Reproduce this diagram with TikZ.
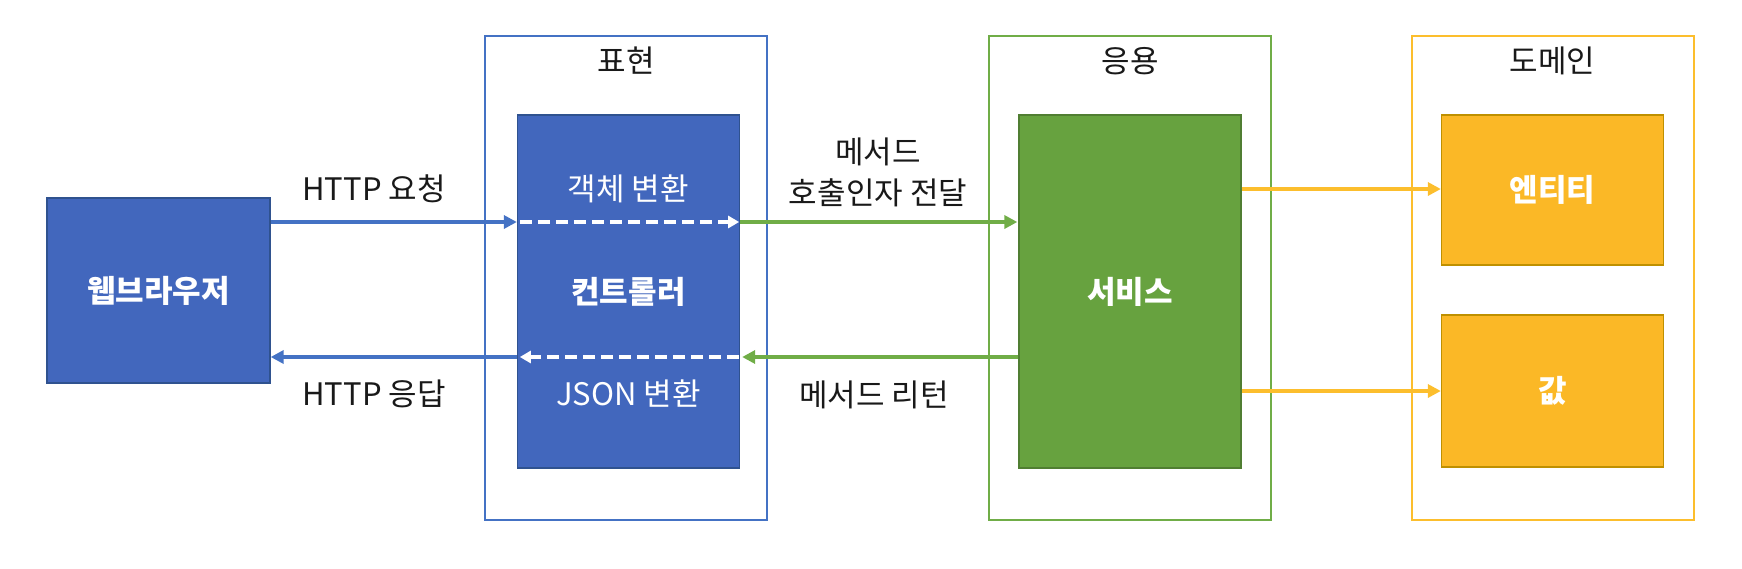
\documentclass[tikz,border=0pt]{standalone}
\usepackage{fontspec}
\setmainfont{Noto Sans CJK KR}
\usetikzlibrary{arrows.meta}
\definecolor{bfill}{RGB}{66,103,189}
\definecolor{bdark}{RGB}{47,82,143}
\definecolor{bline}{RGB}{68,114,196}
\definecolor{gfill}{RGB}{103,162,63}
\definecolor{gdark}{RGB}{80,126,50}
\definecolor{gline}{RGB}{112,173,71}
\definecolor{yfill}{RGB}{251,184,38}
\definecolor{ydark}{RGB}{191,144,0}
\definecolor{yline}{RGB}{252,190,45}
\definecolor{txt}{RGB}{25,25,25}
\begin{document}
\begin{tikzpicture}[x=1pt,y=-1pt,
  every node/.style={font=\fontsize{31}{41}\selectfont, inner sep=0pt, text=txt},
  frame/.style={draw=#1, line width=2pt, minimum width=282pt, minimum height=484pt},
  fillbox/.style={draw=#1, line width=1.3pt, minimum width=222pt},
  wtxt/.style={text=white, font=\fontsize{31}{41}\selectfont\bfseries},
  wlight/.style={text=white, font=\fontsize{31}{41}\selectfont},
  conn/.style={line width=3.6pt, draw=#1, -{Triangle[length=13pt,width=13pt,fill=#1]}},
  dashconn/.style={line width=3.4pt, draw=white, dash pattern=on 12pt off 6pt, -{Triangle[length=11pt,width=12pt,fill=white]}}
]
\useasboundingbox (0,0) rectangle (1742,568);
% frames
\node[frame=bline] (fpres) at (626,278) {};
\node[frame=gline] (fapp) at (1130,278) {};
\node[frame=yline] (fdom) at (1552.5,278) {};
\node (tpres) at (626,61) {표현};
\node (tapp) at (1130,61) {응용};
\node (tdom) at (1552.5,61) {도메인};
% boxes
\node[fillbox=bdark, fill=bfill, minimum width=223pt, minimum height=185pt, wtxt] (browser) at (158.5,290.5) {웹브라우저};
\node[fillbox=bdark, fill=bfill, minimum height=353pt, wtxt] (ctrl) at (628.5,291.5) {컨트롤러};
\node[fillbox=gdark, fill=gfill, minimum height=353pt, wtxt] (svc) at (1130,291.5) {서비스};
\node[fillbox=ydark, fill=yfill, minimum height=150pt, wtxt] (ent) at (1552.5,190) {엔티티};
\node[fillbox=ydark, fill=yfill, minimum height=152pt, wtxt] (val) at (1552.5,391) {값};
% coordinates for arrow rows
\coordinate (rq) at (0,222);
\coordinate (rs) at (0,357);
\coordinate (d1) at (0,189);
\coordinate (d2) at (0,391);
% request
\draw[conn=bline] (browser.east |- rq) -- (ctrl.west |- rq);
\draw[dashconn] ([xshift=3pt]ctrl.west |- rq) -- ([xshift=-1pt]ctrl.east |- rq);
\draw[conn=gline] (ctrl.east |- rq) -- ([xshift=-1pt]svc.west |- rq);
% response
\draw[conn=gline] (svc.west |- rs) -- ([xshift=2pt]ctrl.east |- rs);
\draw[dashconn] ([xshift=-1pt]ctrl.east |- rs) -- ([xshift=3pt]ctrl.west |- rs);
\draw[conn=bline] (ctrl.west |- rs) -- (browser.east |- rs);
% domain
\draw[conn=yline] (svc.east |- d1) -- (ent.west |- d1);
\draw[conn=yline] (svc.east |- d2) -- (val.west |- d2);
% labels
\node (lreq) at (374,189) {HTTP 요청};
\node (lres) at (374,394) {HTTP 응답};
\node[wlight] (lobj) at (628.5,189) {객체 변환};
\node[wlight] (ljson) at (628.5,394) {JSON 변환};
\node[align=center] (lcall) at (878,172) {메서드\\호출인자 전달};
\node (lret) at (874,395) {메서드 리턴};
\end{tikzpicture}
\end{document}
